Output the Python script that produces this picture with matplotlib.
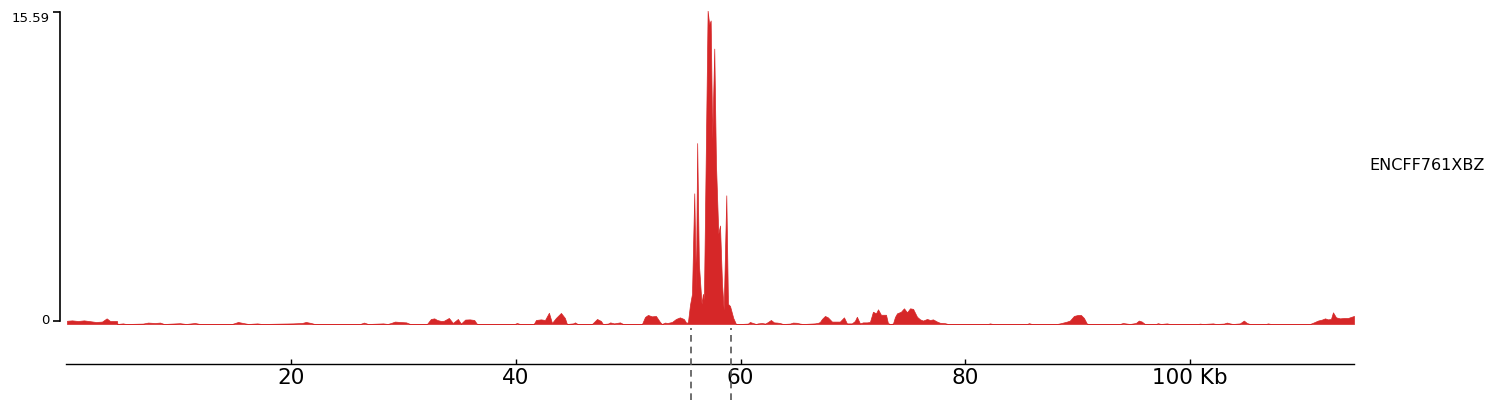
import matplotlib
matplotlib.use("Agg")
import matplotlib.pyplot as plt

# ---- data (positions in kb, signal values) ----
positions_kb = [
    0.07, 0.52, 1.05, 1.58, 2.12, 2.65, 3.19, 3.60, 3.90, 4.52, 4.56, 5.05, 5.32,
    6.83, 7.28, 7.90, 8.35, 8.70, 10.12, 10.66, 11.45, 11.90,
    14.75, 15.29, 15.73, 16.20, 17.00, 17.40,
    20.18, 20.98, 21.33, 21.78, 22.10,
    26.15, 26.50, 26.85, 28.20, 28.60, 28.90, 29.25, 29.70, 30.25, 30.60,
    32.10, 32.45, 32.75, 33.00, 33.35, 33.60, 34.05, 34.40, 34.85, 35.12, 35.50, 35.90, 36.30, 36.55,
    39.90, 40.10, 40.37,
    41.60, 41.80, 42.24, 42.60, 42.95, 43.22, 43.57, 44.02, 44.37, 44.55, 45.10, 45.27, 45.50,
    46.78, 47.23, 47.58, 47.75,
    48.20, 48.40, 48.75, 49.27, 49.55,
    51.23, 51.50, 51.76, 52.11, 52.47, 52.83, 53.00, 53.27, 53.50, 53.90, 54.25, 54.60, 54.95, 55.18,
    55.32, 55.50, 55.68, 55.88, 56.03, 56.14, 56.29, 56.53, 56.65, 56.74, 57.07, 57.21, 57.34,
    57.48, 57.66, 57.81, 58.02, 58.17, 58.35, 58.50, 58.73, 58.88, 59.06, 59.35, 59.59,
    59.95, 60.66, 60.83, 61.10, 61.37, 61.55, 61.90, 62.19, 62.44, 62.70, 62.97, 63.24, 63.50, 63.77,
    64.40, 64.66, 65.00, 65.29, 65.56,
    66.60, 66.90, 67.06, 67.24, 67.51, 67.77, 68.13, 68.49, 68.84, 69.20, 69.46, 69.90, 70.17, 70.35,
    70.62, 70.89, 71.24, 71.51, 71.78, 72.05, 72.23, 72.49, 72.76, 72.94, 73.11, 73.29, 73.56,
    73.74, 73.92, 74.27, 74.54, 74.81, 75.08, 75.35, 75.70, 75.97, 76.23, 76.59, 76.86, 77.12,
    77.48, 77.74, 78.19, 78.45,
    82.00, 82.19, 82.45, 85.48, 85.66, 85.92,
    88.15, 88.41, 88.77, 89.04, 89.30, 89.66, 90.01, 90.28, 90.55, 90.81, 90.99,
    93.75, 94.02, 94.37, 94.64, 95.17, 95.44, 95.70, 95.97,
    96.95, 97.13, 97.40, 97.93, 98.20,
    100.70, 100.87, 101.14, 101.76, 102.03, 102.30, 103.00, 103.27, 103.54, 103.80,
    104.43, 104.78, 105.05, 105.32, 106.74, 106.92, 107.19,
    110.66, 111.01, 111.37, 111.73, 112.00, 112.26, 112.53, 112.71, 112.98, 113.33, 113.69,
    114.05, 114.31, 114.58,
]
signal = [
    0.16, 0.18, 0.15, 0.18, 0.14, 0.10, 0.12, 0.28, 0.15, 0.15, 0.0, 0.03, 0.0,
    0.02, 0.07, 0.05, 0.07, 0.0, 0.04, 0.0, 0.05, 0.0,
    0.0, 0.10, 0.05, 0.0, 0.03, 0.0,
    0.03, 0.05, 0.10, 0.05, 0.0,
    0.0, 0.07, 0.0, 0.03, 0.0, 0.05, 0.12, 0.10, 0.08, 0.0,
    0.0, 0.25, 0.28, 0.20, 0.15, 0.16, 0.30, 0.05, 0.25, 0.02, 0.22, 0.23, 0.20, 0.0,
    0.0, 0.05, 0.0,
    0.0, 0.20, 0.23, 0.20, 0.56, 0.05, 0.30, 0.55, 0.30, 0.0, 0.03, 0.08, 0.0,
    0.0, 0.25, 0.15, 0.0,
    0.02, 0.08, 0.03, 0.08, 0.0,
    0.0, 0.35, 0.45, 0.38, 0.40, 0.10, 0.0, 0.07, 0.05, 0.10, 0.25, 0.33, 0.25, 0.05,
    0.10, 0.95, 1.50, 6.50, 1.70, 9.00, 3.00, 1.00, 1.50, 1.20, 15.59, 14.90, 15.10,
    9.20, 13.70, 8.00, 4.50, 4.90, 2.00, 0.70, 6.40, 1.00, 0.90, 0.30, 0.0,
    0.0, 0.02, 0.10, 0.05, 0.0, 0.03, 0.05, 0.02, 0.10, 0.20, 0.08, 0.07, 0.05, 0.0,
    0.02, 0.07, 0.06, 0.02, 0.0,
    0.03, 0.06, 0.10, 0.25, 0.40, 0.33, 0.12, 0.12, 0.12, 0.33, 0.03, 0.03, 0.15, 0.36,
    0.03, 0.08, 0.08, 0.10, 0.61, 0.53, 0.73, 0.46, 0.46, 0.46, 0.05, 0.0, 0.02,
    0.35, 0.53, 0.61, 0.78, 0.58, 0.78, 0.75, 0.36, 0.23, 0.17, 0.25, 0.20, 0.23,
    0.12, 0.06, 0.04, 0.0,
    0.0, 0.03, 0.0, 0.0, 0.04, 0.0,
    0.0, 0.03, 0.08, 0.12, 0.17, 0.40, 0.45, 0.45, 0.30, 0.02, 0.0,
    0.0, 0.05, 0.02, 0.0, 0.05, 0.17, 0.12, 0.0,
    0.0, 0.04, 0.0, 0.03, 0.0,
    0.0, 0.02, 0.0, 0.02, 0.03, 0.0, 0.02, 0.07, 0.03, 0.0,
    0.03, 0.17, 0.05, 0.0, 0.0, 0.03, 0.0,
    0.0, 0.08, 0.17, 0.22, 0.28, 0.23, 0.25, 0.58, 0.33, 0.28, 0.30,
    0.30, 0.35, 0.40,
]
track_label = "ENCFF761XBZ"
y_max = 15.59
y_tick_labels = ["0", "15.59"]
x_ticks_kb = [20, 40, 60, 80, 100]
x_tick_labels = ["20", "40", "60", "80", "100 Kb"]
region_start_kb = 0.0
region_end_kb = 114.58
highlight_bounds_kb = [55.6, 59.16]

# ---- layout (pixel based) ----
W, H = 1497, 413
DPI = 100
fig = plt.figure(figsize=(W / DPI, H / DPI), dpi=DPI)
RED = "#d62728"

def fx(px):
    return px / W

def fy(py):
    return (H - py) / H

x_left, x_right = 66.2, 1354.0
ax_w = fx(x_right) - fx(x_left)

# main signal axes
base_py, top_py = 324.0, 10.6
ax = fig.add_axes([fx(x_left), fy(base_py), ax_w, (base_py - top_py) / H])
ax.fill_between(positions_kb, signal, 0, color=RED, linewidth=0.5, edgecolor=RED)
ax.set_xlim(region_start_kb, region_end_kb)
ax.set_ylim(0, y_max)
ax.axis("off")

# y axis (separate, like genome track plots)
ay = fig.add_axes([fx(60), fy(321), 0.0001, (321 - 12) / H])
ay.set_ylim(0, y_max)
for s in ["top", "right", "bottom"]:
    ay.spines[s].set_visible(False)
ay.spines["left"].set_linewidth(1.2)
ay.set_xticks([])
ay.set_yticks([0, y_max])
ay.set_yticklabels(y_tick_labels)
ay.tick_params(axis="y", direction="out", length=5, width=1.2, pad=2.8, labelsize=9.5)
lbls = ay.get_yticklabels()
lbls[1].set_verticalalignment("top")
lbls[0].set_verticalalignment("center")

# x axis track
ax_x = fig.add_axes([fx(x_left), fy(364), ax_w, (364 - 330) / H])
ax_x.set_xlim(region_start_kb, region_end_kb)
ax_x.set_ylim(0, 1)
for s in ["top", "right", "left"]:
    ax_x.spines[s].set_visible(False)
ax_x.spines["bottom"].set_linewidth(1.0)
ax_x.set_yticks([])
ax_x.set_xticks(x_ticks_kb)
ax_x.set_xticklabels(x_tick_labels)
ax_x.tick_params(axis="x", direction="in", length=3.4, width=1.0, pad=3, labelsize=15.5)
ax_x.patch.set_alpha(0)

# highlight dashed boundaries
ax_v = fig.add_axes([fx(x_left), fy(400), ax_w, (400 - 328) / H])
ax_v.set_xlim(region_start_kb, region_end_kb)
ax_v.set_ylim(0, 1)
ax_v.axis("off")
for b in highlight_bounds_kb:
    ax_v.axvline(b, ymin=0, ymax=1, color="#555555", linewidth=1.2, linestyle=(0, (4, 3)))

# track label
fig.text(fx(1369), fy(166), track_label, ha="left", va="center", fontsize=11.5)

fig.savefig("out.png", dpi=DPI)
